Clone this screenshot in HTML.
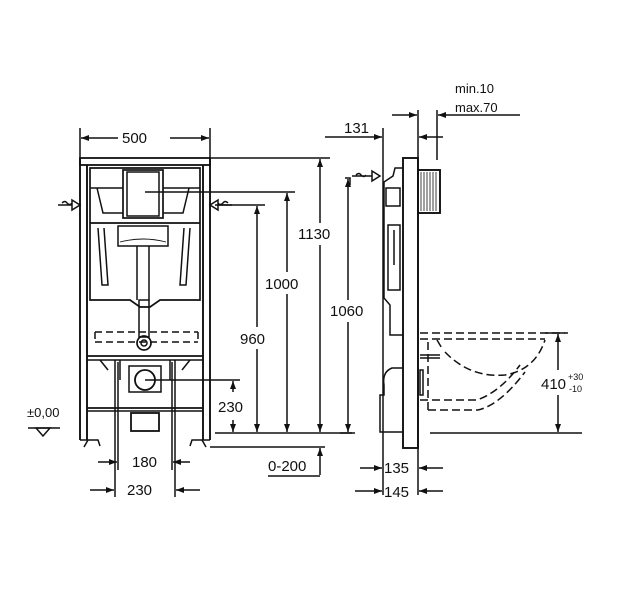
<!DOCTYPE html>
<html><head><meta charset="utf-8"><style>
html,body{margin:0;padding:0;background:#fff;}
svg{display:block}
text{font-family:"Liberation Sans",Arial,sans-serif;fill:#111;}
</style></head><body>
<svg width="634" height="600" viewBox="0 0 634 600" xmlns="http://www.w3.org/2000/svg">
<defs>
<marker id="a" markerWidth="8" markerHeight="6" refX="8" refY="3" orient="auto" markerUnits="userSpaceOnUse"><path d="M0,0 L8,3 L0,6 z" fill="#111"/></marker>
</defs>
<g stroke="#111" stroke-width="1.5" fill="none">
<line x1="80" y1="128" x2="80" y2="158"/><line x1="210" y1="128" x2="210" y2="158"/>
<line x1="92" y1="138" x2="81" y2="138" marker-end="url(#a)"/><line x1="198" y1="138" x2="209" y2="138" marker-end="url(#a)"/>
<line x1="92" y1="138" x2="118" y2="138"/><line x1="170" y1="138" x2="198" y2="138"/>
<rect x="80" y="158" width="130" height="7" stroke-width="1.8"/>
<line x1="80" y1="158" x2="80" y2="440" stroke-width="1.9"/><line x1="87" y1="165" x2="87" y2="440" stroke-width="1.9"/>
<line x1="210" y1="158" x2="210" y2="440" stroke-width="1.9"/><line x1="203" y1="165" x2="203" y2="440" stroke-width="1.9"/>
<path d="M80,440 L87,440 M203,440 L210,440"/>
<path d="M84,447 L88,440 L98,440 L100,446 M206,447 L202,440 L192,440 L190,446"/>
<path d="M90,168 L200,168 L200,300 L160,300 L150,307 L140,307 L130,300 L90,300 Z" stroke-width="1.7"/>
<rect x="123" y="170" width="40" height="48" stroke-width="1.7"/><rect x="127" y="172" width="32" height="44"/>
<path d="M90,188 L123,188 M163,188 L200,188 M97,188 L103,213 L123,213 M189,188 L183,213 L163,213"/>
<line x1="90" y1="223" x2="200" y2="223" stroke-width="1.7"/>
<rect x="118" y="226" width="50" height="20" stroke-width="1.5"/>
<path d="M98,228 L102,285 L108,285 L104,228 M190,228 L186,285 L180,285 L184,228"/>
<path d="M137,246 L137,300 M149,246 L149,300"/>
<path d="M120,242 Q143,236 166,242" stroke-width="0.9"/>
<rect x="139" y="300" width="10" height="37"/>
<circle cx="144" cy="343" r="7" stroke-width="1.7"/><circle cx="144" cy="343" r="3"/>
<path d="M95,332 L198,332 M95,342 L198,342 M95,332 L95,342 M198,332 L198,342" stroke-dasharray="7,4" stroke-width="1.5"/>
<line x1="87" y1="356" x2="203" y2="356" stroke-width="1.7"/><line x1="87" y1="360" x2="203" y2="360"/>
<line x1="87" y1="408" x2="203" y2="408" stroke-width="1.7"/><line x1="87" y1="411" x2="203" y2="411"/>
<rect x="129" y="366" width="32" height="26"/>
<circle cx="145" cy="380" r="10" stroke-width="1.8"/>
<rect x="131" y="413" width="28" height="18" stroke-width="1.8"/>
<path d="M100,360 L108,370 M190,360 L182,370 M120,360 L120,380 M170,360 L170,380"/>
<path d="M58,205 L72,205 M72,200 L80,205 L72,210 Z M62,203 q3,-3 5,0 q3,3 5,0"/>
<path d="M232,205 L218,205 M218,200 L210,205 L218,210 Z M228,203 q-3,-3 -5,0 q-3,3 -5,0"/>
<line x1="210" y1="158" x2="330" y2="158"/>
<line x1="145" y1="192" x2="295" y2="192"/>
<line x1="215" y1="205" x2="265" y2="205"/>
<line x1="145" y1="380" x2="240" y2="380"/>
<line x1="215" y1="433" x2="355" y2="433"/>
<line x1="210" y1="447" x2="325" y2="447"/>
<line x1="320" y1="170" x2="320" y2="159" marker-end="url(#a)"/><line x1="320" y1="420" x2="320" y2="432" marker-end="url(#a)"/>
<line x1="320" y1="170" x2="320" y2="223"/><line x1="320" y1="245" x2="320" y2="420"/>
<line x1="287" y1="204" x2="287" y2="193" marker-end="url(#a)"/><line x1="287" y1="420" x2="287" y2="432" marker-end="url(#a)"/>
<line x1="287" y1="204" x2="287" y2="272"/><line x1="287" y1="294" x2="287" y2="420"/>
<line x1="257" y1="217" x2="257" y2="206" marker-end="url(#a)"/><line x1="257" y1="420" x2="257" y2="432" marker-end="url(#a)"/>
<line x1="257" y1="217" x2="257" y2="327"/><line x1="257" y1="349" x2="257" y2="420"/>
<line x1="233" y1="392" x2="233" y2="381" marker-end="url(#a)"/><line x1="233" y1="420" x2="233" y2="432" marker-end="url(#a)"/>
<line x1="320" y1="475" x2="320" y2="448" marker-end="url(#a)"/>
<line x1="268" y1="476" x2="320" y2="476"/>
<path d="M36,428 L50,428 L43,436 Z"/><line x1="28" y1="428" x2="60" y2="428"/>
<line x1="115" y1="360" x2="115" y2="497"/><line x1="175" y1="360" x2="175" y2="497"/>
<line x1="118" y1="362" x2="118" y2="470"/><line x1="172" y1="362" x2="172" y2="470"/>
<line x1="98" y1="462" x2="117" y2="462" marker-end="url(#a)"/><line x1="190" y1="462" x2="173" y2="462" marker-end="url(#a)"/>
<line x1="90" y1="490" x2="114" y2="490" marker-end="url(#a)"/><line x1="200" y1="490" x2="176" y2="490" marker-end="url(#a)"/>
<line x1="325" y1="137" x2="382" y2="137" marker-end="url(#a)"/>
<line x1="383" y1="128" x2="383" y2="495"/>
<line x1="418" y1="110" x2="418" y2="495"/>
<line x1="437" y1="110" x2="437" y2="160"/>
<line x1="392" y1="115" x2="417" y2="115" marker-end="url(#a)"/>
<line x1="520" y1="115" x2="438" y2="115" marker-end="url(#a)"/>
<line x1="443" y1="137" x2="419" y2="137" marker-end="url(#a)"/>
<rect x="403" y="158" width="15" height="290" stroke-width="1.9"/>
<rect x="418" y="170" width="22" height="43" stroke-width="1.9"/>
<path d="M421,172 v39 M424,172 v39 M427,172 v39 M430,172 v39 M433,172 v39 M436,172 v39" stroke-width="0.8"/>
<path d="M403,168 L395,168 L393,176 L384,182 L384,298 L390,305 L390,335 L403,335"/>
<rect x="386" y="188" width="14" height="18"/>
<path d="M388,225 L388,290 L400,290 L400,225 Z M394,230 L394,265"/>
<path d="M403,368 L392,368 Q382,372 384,385 L384,395 L380,395 L380,432 L403,432"/>
<rect x="420" y="370" width="3" height="25"/>
<path d="M345,178 L350,178 L350,185 M352,176 L372,176 M372,171 L380,176 L372,181 Z M356,175 q3,-3 5,0 q3,3 5,0"/>
<line x1="348" y1="190" x2="348" y2="179" marker-end="url(#a)"/><line x1="348" y1="420" x2="348" y2="432" marker-end="url(#a)"/>
<line x1="348" y1="190" x2="348" y2="300"/><line x1="348" y1="322" x2="348" y2="420"/>
<line x1="340" y1="433" x2="352" y2="433"/>
<g stroke-dasharray="8,4" stroke-width="1.5">
<line x1="420" y1="333" x2="565" y2="333"/>
<line x1="420" y1="339" x2="545" y2="339"/>
<path d="M428,342 L428,410 M437,340 L443,350"/>
<path d="M445,352 Q470,378 505,375 Q535,370 545,340"/>
<path d="M420,400 L477,400 Q500,392 520,365"/>
<path d="M428,410 L478,410 Q500,405 525,372"/>
</g>
<line x1="420" y1="355" x2="440" y2="355"/><line x1="420" y1="358" x2="440" y2="358"/>
<line x1="558" y1="345" x2="558" y2="334" marker-end="url(#a)"/><line x1="558" y1="420" x2="558" y2="432" marker-end="url(#a)"/>
<line x1="558" y1="345" x2="558" y2="370"/><line x1="558" y1="395" x2="558" y2="420"/>
<line x1="430" y1="433" x2="582" y2="433"/>
<line x1="545" y1="333" x2="568" y2="333"/>
<line x1="360" y1="468" x2="382" y2="468" marker-end="url(#a)"/><line x1="443" y1="468" x2="419" y2="468" marker-end="url(#a)"/>
<line x1="355" y1="491" x2="382" y2="491" marker-end="url(#a)"/><line x1="443" y1="491" x2="419" y2="491" marker-end="url(#a)"/>
</g>
<g font-size="15">
<text x="122" y="143">500</text>
<text x="298" y="239">1130</text>
<text x="265" y="289">1000</text>
<text x="240" y="344">960</text>
<text x="218" y="412">230</text>
<text x="268" y="471">0-200</text>
<text x="27" y="417" font-size="13">±0,00</text>
<text x="132" y="467">180</text>
<text x="127" y="495">230</text>
<text x="330" y="316">1060</text>
<text x="344" y="133">131</text>
<text x="455" y="93" font-size="13">min.10</text>
<text x="455" y="112" font-size="13">max.70</text>
<text x="541" y="389">410</text>
<text x="568" y="380" font-size="9">+30</text>
<text x="569" y="392" font-size="9">-10</text>
<text x="384" y="473">135</text>
<text x="384" y="497">145</text>
</g>
</svg>
</body></html>
